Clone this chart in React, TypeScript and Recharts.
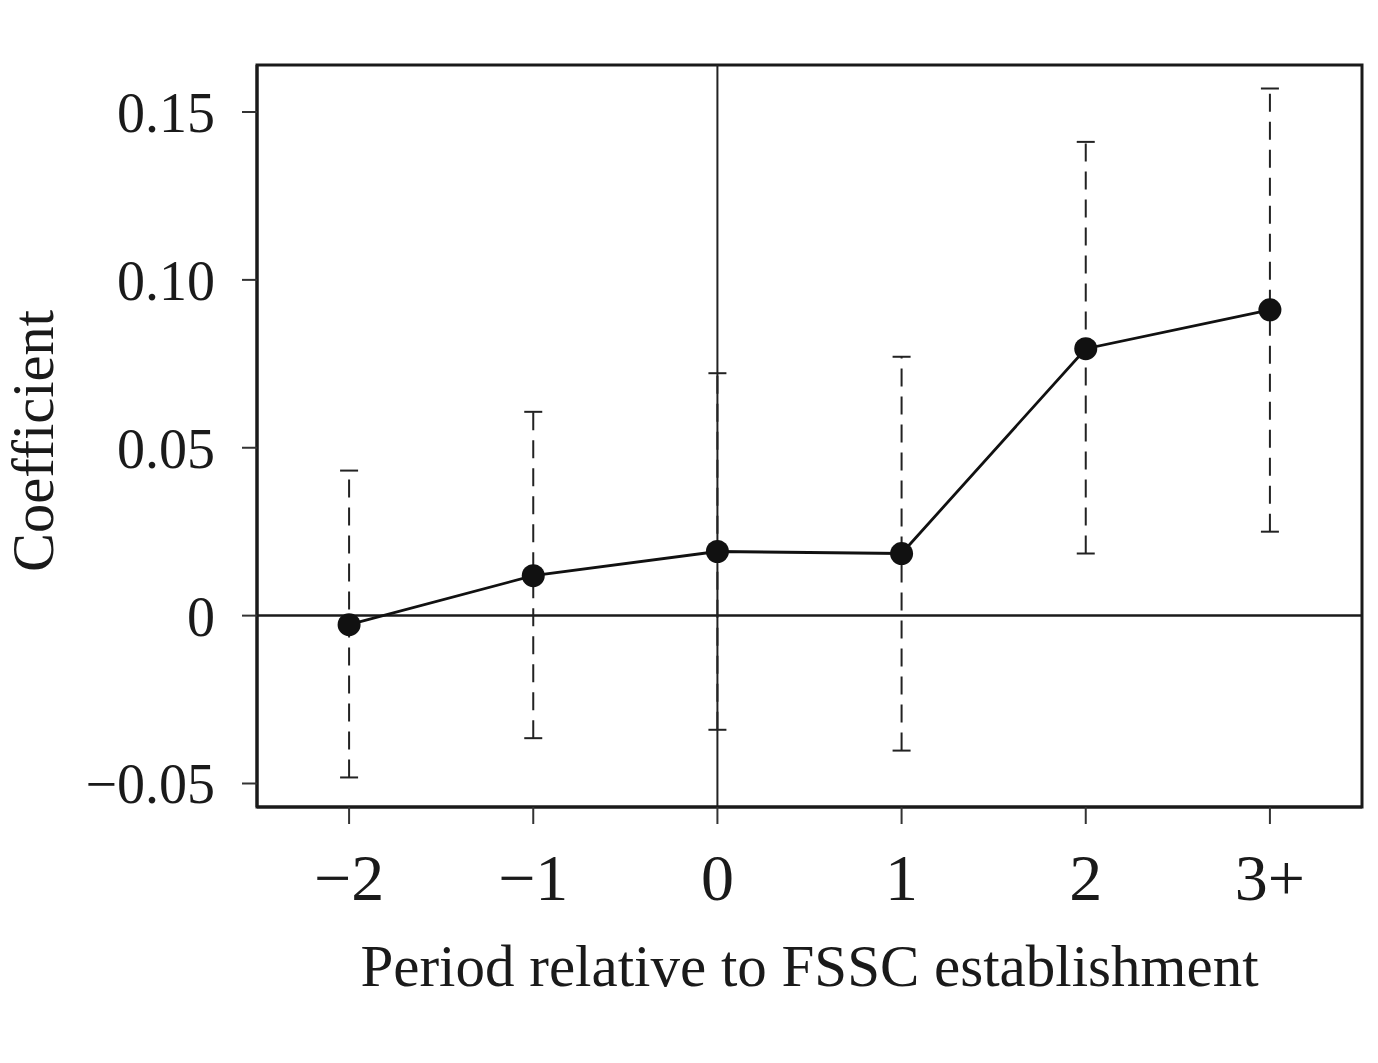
import React from "react";
import { ComposedChart, Line, ErrorBar, XAxis, YAxis, ReferenceLine, ReferenceArea, Label } from "recharts";

const periods = ["\u22122", "\u22121", "0", "1", "2", "3+"];
const coefficients = [-0.0027, 0.0119, 0.0191, 0.0185, 0.0795, 0.0911];
const upperBounds = [0.0432, 0.0607, 0.0722, 0.0771, 0.1411, 0.1570];
const lowerBounds = [-0.0482, -0.0365, -0.0340, -0.0402, 0.0185, 0.0250];
const yTicks = [-0.05, 0, 0.05, 0.1, 0.15];
const yTickLabels = ["\u22120.05", "0", "0.05", "0.10", "0.15"];

const data = periods.map((p, i) => ({
  x: i,
  period: p,
  coef: coefficients[i],
  ci: [coefficients[i] - lowerBounds[i], upperBounds[i] - coefficients[i]],
}));

const FONT = '"Liberation Serif", "Times New Roman", serif';
const INK = "#1a1a1a";

const YTitle = () => (
  <text
    x={53}
    y={441}
    transform="rotate(-90, 53, 441)"
    textAnchor="middle"
    fontFamily={FONT}
    fontSize={58.5}
    fill={INK}
  >
    Coefficient
  </text>
);

export default function App() {
  return (
    <div style={{ position: "absolute", left: 0, top: 0, background: "#fff" }}>
      <ComposedChart
        width={1378}
        height={1063}
        data={data}
        margin={{ top: 65, right: 16, bottom: 0, left: 0 }}
      >
        <XAxis
          type="number"
          dataKey="x"
          domain={[-0.5, 5.5]}
          ticks={[0, 1, 2, 3, 4, 5]}
          tickFormatter={(v) => periods[v]}
          height={256}
          tickSize={17}
          tickMargin={29}
          axisLine={{ stroke: INK, strokeWidth: 3 }}
          tickLine={{ stroke: "#333", strokeWidth: 2 }}
          tick={{ fontFamily: FONT, fontSize: 66, fill: INK }}
        >
          <Label
            value="Period relative to FSSC establishment"
            position="insideBottom"
            offset={77}
            style={{ fontFamily: FONT, fontSize: 59, fill: INK }}
          />
        </XAxis>
        <YAxis
          type="number"
          domain={[-0.057, 0.164]}
          ticks={yTicks}
          tickFormatter={(v) => yTickLabels[yTicks.indexOf(v)]}
          width={257}
          tickSize={15}
          tickMargin={27}
          axisLine={{ stroke: INK, strokeWidth: 3 }}
          tickLine={{ stroke: "#333", strokeWidth: 2 }}
          tick={{ fontFamily: FONT, fontSize: 56, fill: INK }}
          allowDataOverflow
        >
          <Label content={<YTitle />} />
        </YAxis>
        <ReferenceArea
          x1={-0.5}
          x2={5.5}
          y1={-0.057}
          y2={0.164}
          fill="none"
          fillOpacity={0}
          stroke={INK}
          strokeWidth={3}
        />
        <ReferenceLine y={0} stroke={INK} strokeWidth={2.5} />
        <ReferenceLine x={2} stroke="#222" strokeWidth={2} />
        <Line
          dataKey="coef"
          stroke="#111"
          strokeWidth={2.8}
          dot={{ r: 11.5, fill: "#111", stroke: "#111", strokeWidth: 0 }}
          isAnimationActive={false}
        >
          <ErrorBar
            dataKey="ci"
            direction="y"
            width={9}
            stroke="#222"
            strokeWidth={2}
            strokeDasharray="18 10"
            isAnimationActive={false}
          />
        </Line>
      </ComposedChart>
    </div>
  );
}
